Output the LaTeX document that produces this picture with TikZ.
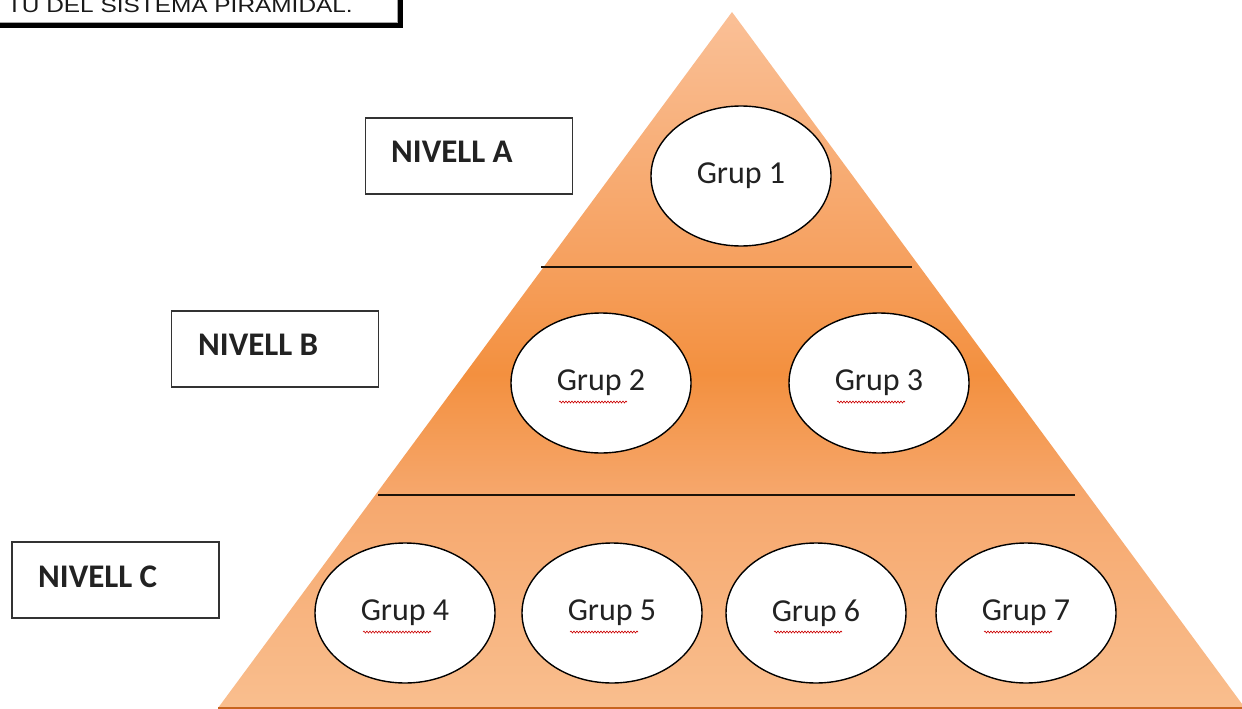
\documentclass[tikz,border=0pt]{standalone}
\usepackage{fontspec}
\setmainfont{Carlito}
\newfontfamily\arialf{Liberation Sans}
\usetikzlibrary{shapes.geometric,decorations.pathmorphing}
\definecolor{pyrTop}{HTML}{FAC097}
\definecolor{pyrUp}{HTML}{F6A262}
\definecolor{pyrMid}{HTML}{F3903F}
\definecolor{pyrLow}{HTML}{F6A86E}
\definecolor{pyrBot}{HTML}{F9BE8E}
\definecolor{baseLine}{HTML}{C8641E}
\definecolor{boxLine}{HTML}{333333}
\definecolor{txtDark}{HTML}{222222}
\pgfdeclareverticalshading{pyrshade}{100bp}{%
  color(0bp)=(pyrBot); color(25bp)=(pyrBot); color(40bp)=(pyrLow);
  color(49bp)=(pyrMid); color(58bp)=(pyrUp); color(75bp)=(pyrTop); color(100bp)=(pyrTop)}
\tikzset{
  grup/.style={ellipse, draw=black, line width=1.4pt, fill=white, minimum width=180pt,
    minimum height=140pt, inner sep=0pt, text=txtDark, font=\fontsize{32}{38}\selectfont},
  levelbox/.style={draw=boxLine, line width=1.6pt, fill=white, minimum width=207pt,
    minimum height=76pt, inner sep=0pt},
  leveltxt/.style={anchor=west, text=txtDark, font=\fontsize{33}{40}\selectfont\bfseries, inner sep=0pt},
  divider/.style={draw=black!85!brown, line width=1.8pt},
  spell/.style={draw=red!80!black, line width=0.6pt, decorate,
    decoration={snake, amplitude=1pt, segment length=3pt}}
}
\begin{document}
\begin{tikzpicture}[x=1pt,y=-1pt]
\useasboundingbox (0,0) rectangle (1242,709);
\clip (0,0) rectangle (1242,709);
% title box (cut off at the top edge)
\fill[black] (-20,-60) rectangle (403,28);
\node[draw=gray!70, line width=0.6pt, fill=white, minimum width=418pt, minimum height=82pt, anchor=south east, inner sep=0pt] (titlebox) at (398,23) {};
\node[anchor=base east, inner sep=0pt, xscale=1.22, transform shape, text=black!90, font=\arialf\fontsize{20}{24}\selectfont] (title) at (353,13) {TU DEL SISTEMA PIRAMIDAL.};
% pyramid
\coordinate (apex) at (732,12);
\coordinate (br) at (1245,708);
\coordinate (bl) at (218,708);
\shade[shading=pyrshade] (apex) -- (br) -- (bl) -- cycle;
\draw[baseLine, line width=2.5pt] (bl) -- (br);
\coordinate (d1l) at (541,267); \coordinate (d1r) at (912,267);
\coordinate (d2l) at (378,495); \coordinate (d2r) at (1075,495);
\draw[divider] (d1l) -- (d1r);
\draw[divider] (d2l) -- (d2r);
% level boxes
\node[levelbox] (boxA) at (469,156) {};
\node[leveltxt] (txtA) at (391,152) {NIVELL A};
\node[levelbox] (boxB) at (275,349) {};
\node[leveltxt] (txtB) at (198,345) {NIVELL B};
\node[levelbox] (boxC) at (115.5,580) {};
\node[leveltxt] (txtC) at (38,577) {NIVELL C};
% groups
\node[grup] (g1) at (741,176) {Grup 1};
\node[grup] (g2) at (601,383) {Grup 2};
\node[grup] (g3) at (879,383) {Grup 3};
\node[grup] (g4) at (405,613) {Grup 4};
\node[grup] (g5) at (612,613) {Grup 5};
\node[grup] (g6) at (816,613) {Grup 6};
\node[grup] (g7) at (1026,613) {Grup 7};
\foreach \g in {g2,g3,g4,g5,g6,g7}{
  \draw[spell] ([xshift=-42pt,yshift=-19pt]\g.center) -- ++(68,0);
}
\end{tikzpicture}
\end{document}
